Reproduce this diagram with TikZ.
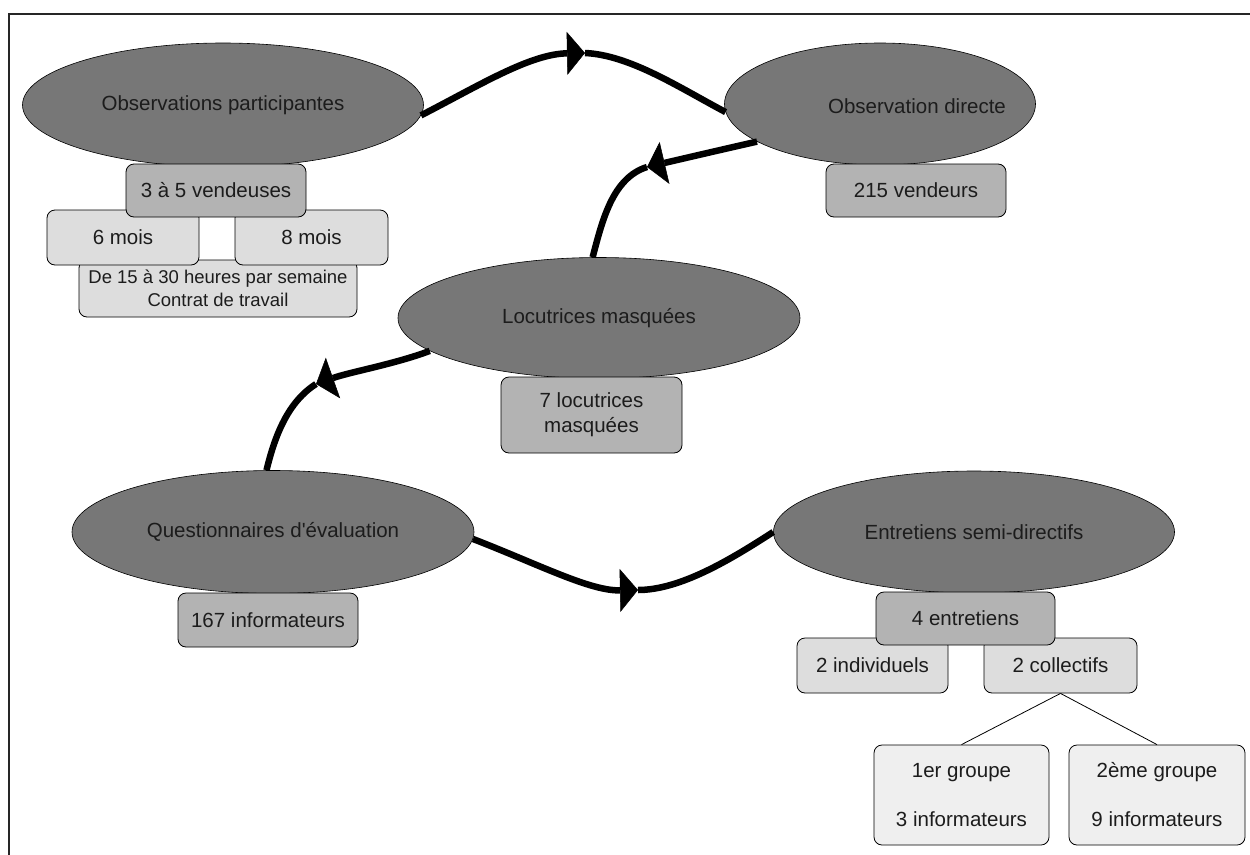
\documentclass[tikz,border=0pt]{standalone}
\usepackage{fontspec}
\setmainfont{Liberation Sans}
\usetikzlibrary{shapes.geometric,arrows.meta}
\definecolor{ellfill}{HTML}{777777}
\definecolor{boxdark}{HTML}{B3B3B3}
\definecolor{boxlight}{HTML}{DDDDDD}
\definecolor{boxpale}{HTML}{EFEFEF}
\definecolor{txt}{HTML}{1C1C1C}
\newcommand\mainfs{\fontsize{20.5}{25}\selectfont}
\newcommand\smallfs{\fontsize{18.5}{23}\selectfont}
\begin{document}
\begin{tikzpicture}[x=1pt,y=-1pt,
  ell/.style={ellipse, draw=black, line width=0.6pt, fill=ellfill, inner sep=0pt, text=txt, font=\mainfs},
  box/.style={draw=black, line width=0.8pt, rounded corners=8pt, inner sep=0pt, text=txt, font=\mainfs, align=center},
  dark/.style={box, fill=boxdark},
  light/.style={box, fill=boxlight},
  pale/.style={box, fill=boxpale},
  flow/.style={line width=6.5pt, black},
  tipped/.style={flow, -{Triangle[length=18pt,width=43pt,line width=0.5pt]}},
  thin/.style={line width=0.8pt, black}
]
\useasboundingbox (0,0) rectangle (1250,854);
\fill[white] (0,0) rectangle (1250,854);
% frame
\draw[line width=1.6pt, black!85] (9,860) -- (9,14) -- (1260,14);

% ellipses
\node[ell, minimum width=401pt, minimum height=124pt] (op) at (223,105) {Observations participantes};
\node[ell, minimum width=311pt, minimum height=122pt] (od) at (880,104) {};
\node[text=txt, font=\mainfs, inner sep=0pt] (odt) at (917,106) {Observation directe};
\node[ell, minimum width=402pt, minimum height=121pt] (lm) at (599,318) {Locutrices masquées};
\node[ell, minimum width=402pt, minimum height=123pt] (q) at (273,532) {Questionnaires d\textquotesingle évaluation};
\node[ell, minimum width=401pt, minimum height=122pt] (e) at (974,532) {Entretiens semi-directifs};

% flows
\coordinate (m1) at (585,53);
\coordinate (m2) at (647,167);
\coordinate (m3) at (316,384);
\coordinate (m4) at (638,590);
\draw[tipped] (op.-3) .. controls (480,85) and (530,54) .. (m1);
\draw[flow] (m1) .. controls (630,55) and (680,88) .. (od.183);
\draw[tipped] (od.197) .. controls (720,150) and (690,157) .. (m2);
\draw[flow] (m2) .. controls (612,178) and (602,222) .. (lm.96);
\draw[tipped] (lm.191) .. controls (395,364) and (350,372) .. (m3);
\draw[flow] (m3) .. controls (288,402) and (275,435) .. (q.96);
\draw[tipped] (q.-2) .. controls (540,565) and (590,591) .. (m4);
\draw[flow] (m4) .. controls (680,590) and (730,560) .. (e.180);

% boxes: Observations participantes
\node[light, minimum width=278pt, minimum height=57pt, font=\smallfs] (de15) at (218,288.5) {De 15 à 30 heures par semaine\\Contrat de travail};
\node[light, minimum width=152pt, minimum height=55pt] (m6) at (123,237.5) {6 mois};
\node[light, minimum width=153pt, minimum height=55pt] (m8) at (311.5,237.5) {8 mois};
\node[dark, minimum width=180pt, minimum height=53pt] (v35) at (216,190.5) {3 à 5 vendeuses};

% Observation directe
\node[dark, minimum width=180pt, minimum height=53pt] (v215) at (916,190.5) {215 vendeurs};

% Locutrices
\node[dark, minimum width=181pt, minimum height=76pt] (loc7) at (591.5,415) {7 locutrices\\masquées};

% Questionnaires
\node[dark, minimum width=180pt, minimum height=54pt] (i167) at (268,620) {167 informateurs};

% Entretiens
\node[light, minimum width=151pt, minimum height=55pt] (ind2) at (872.5,665.5) {2 individuels};
\node[light, minimum width=153pt, minimum height=55pt] (col2) at (1060.5,665.5) {2 collectifs};
\node[dark, minimum width=179pt, minimum height=53pt] (e4) at (965.5,618.5) {4 entretiens};
\node[pale, minimum width=175pt, minimum height=100pt] (g1) at (961.5,795) {1er groupe\\[24pt]3 informateurs};
\node[pale, minimum width=176pt, minimum height=100pt] (g2) at (1157,795) {2ème groupe\\[24pt]9 informateurs};
\draw[thin] (col2.south) -- (g1.north);
\draw[thin] (col2.south) -- (g2.north);
\end{tikzpicture}
\end{document}
